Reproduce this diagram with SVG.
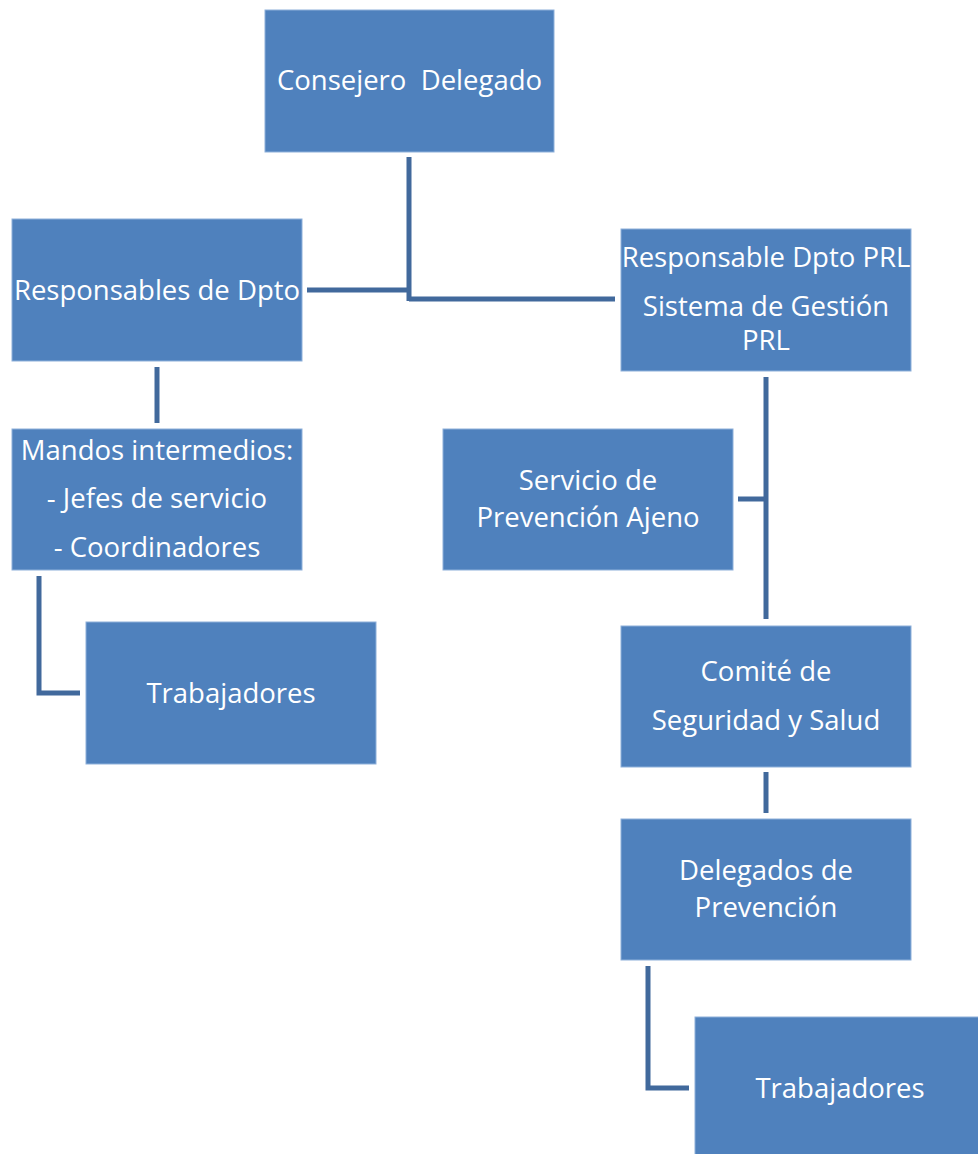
<svg xmlns="http://www.w3.org/2000/svg" width="978" height="1154" viewBox="0 0 978 1154">
<style>
.box{fill:#4f81bd;stroke:#8eb0da;stroke-width:1}
.t{font-family:"Open Sans","Liberation Sans",sans-serif;font-size:27.5px;fill:#ffffff;text-anchor:middle;white-space:pre}
.c{fill:none;stroke:#41699c;stroke-width:5;stroke-linejoin:miter;stroke-linecap:butt}
</style>
<rect width="978" height="1154" fill="#ffffff"/>
<g id="connectors">
<path class="c" d="M409,157 V301"/>
<path class="c" d="M307,290 H409"/>
<path class="c" d="M409,299 H615"/>
<path class="c" d="M157,367 V423"/>
<path class="c" d="M39,576 V693 H80"/>
<path class="c" d="M766,377 V619"/>
<path class="c" d="M738,499 H766"/>
<path class="c" d="M766,772 V813"/>
<path class="c" d="M648,966 V1088 H689"/>
</g>
<g id="consejero">
<rect class="box" x="265" y="10" width="289" height="142"/>
<text class="t" x="409.5" y="90" xml:space="preserve">Consejero  Delegado</text>
</g>
<g id="responsables">
<rect class="box" x="12" y="219" width="290" height="142"/>
<text class="t" x="157" y="300">Responsables de Dpto</text>
</g>
<g id="mandos">
<rect class="box" x="12" y="429" width="290" height="141"/>
<text class="t" x="157" y="460">Mandos intermedios:</text>
<text class="t" x="157" y="508">- Jefes de servicio</text>
<text class="t" x="157" y="557">- Coordinadores</text>
</g>
<g id="trabajadores1">
<rect class="box" x="86" y="622" width="290" height="142"/>
<text class="t" x="231" y="703">Trabajadores</text>
</g>
<g id="responsable-prl">
<rect class="box" x="621" y="229" width="290" height="142"/>
<text class="t" x="766" y="267">Responsable Dpto PRL</text>
<text class="t" x="766" y="316">Sistema de Gestión</text>
<text class="t" x="766" y="350">PRL</text>
</g>
<g id="servicio">
<rect class="box" x="443" y="429" width="290" height="141"/>
<text class="t" x="588" y="490">Servicio de</text>
<text class="t" x="588" y="527">Prevención Ajeno</text>
</g>
<g id="comite">
<rect class="box" x="621" y="626" width="290" height="141"/>
<text class="t" x="766" y="681">Comité de</text>
<text class="t" x="766" y="730">Seguridad y Salud</text>
</g>
<g id="delegados">
<rect class="box" x="621" y="819" width="290" height="141"/>
<text class="t" x="766" y="880">Delegados de</text>
<text class="t" x="766" y="917">Prevención</text>
</g>
<g id="trabajadores2">
<rect class="box" x="695" y="1017" width="290" height="142"/>
<text class="t" x="840" y="1098">Trabajadores</text>
</g>
</svg>
